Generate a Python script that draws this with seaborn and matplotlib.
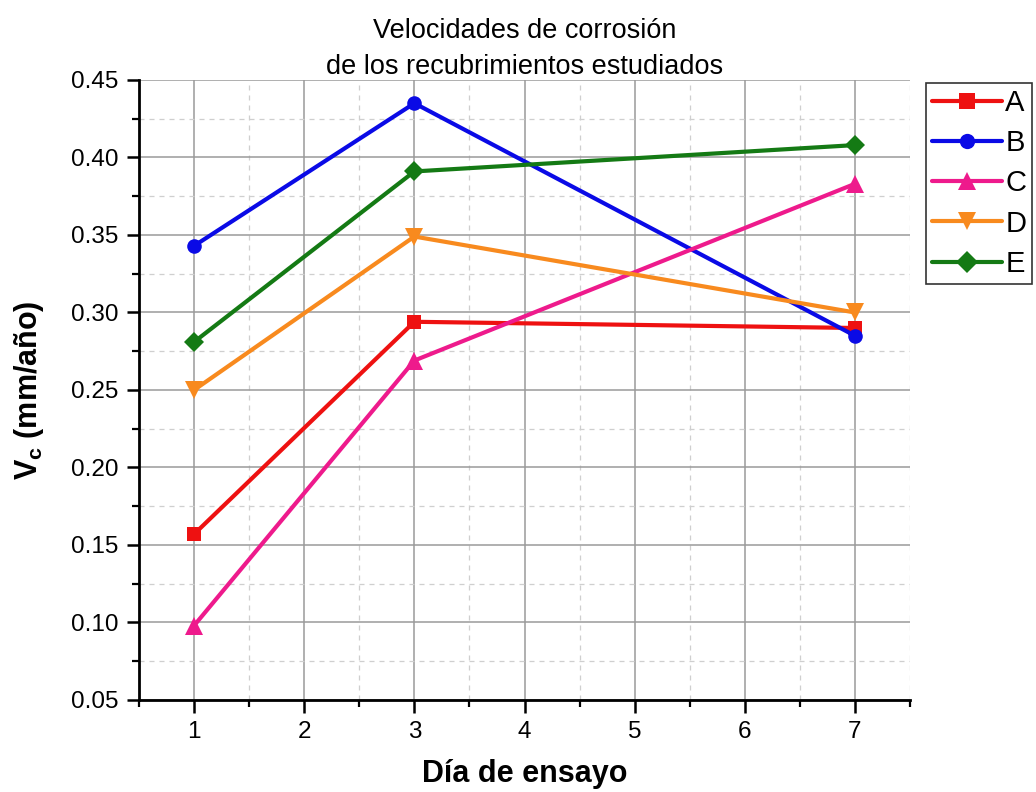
import numpy as np
import pandas as pd
import matplotlib
matplotlib.use("Agg")
import matplotlib.pyplot as plt
from matplotlib.ticker import MultipleLocator, FormatStrFormatter
import seaborn as sns

# Corrosion rate (mm/año) per coating, measured on test days 1, 3 and 7
dias = [1, 3, 7]
recubrimientos = ["A", "B", "C", "D", "E"]
vel_A = [0.157, 0.294, 0.290]
vel_B = [0.343, 0.435, 0.285]
vel_C = [0.098, 0.269, 0.383]
vel_D = [0.250, 0.349, 0.300]
vel_E = [0.281, 0.391, 0.408]

colores = {"A": "#ee1111", "B": "#0a0ae6", "C": "#ee1a8c",
           "D": "#f88a1e", "E": "#147a14"}
marcadores = {"A": "s", "B": "o", "C": "^", "D": "v", "E": "D"}

valores = [vel_A, vel_B, vel_C, vel_D, vel_E]
df = pd.DataFrame({
    "dia": np.tile(dias, len(recubrimientos)),
    "vc": np.concatenate(valores),
    "rec": np.repeat(recubrimientos, len(dias)),
})

sns.set_style("white")
plt.rcParams["font.family"] = ["Liberation Sans", "DejaVu Sans"]
plt.rcParams["text.color"] = "black"
plt.rcParams["axes.labelcolor"] = "black"
plt.rcParams["xtick.color"] = "black"
plt.rcParams["ytick.color"] = "black"
plt.rcParams["mathtext.fontset"] = "custom"
plt.rcParams["mathtext.rm"] = "Liberation Sans"
plt.rcParams["mathtext.bf"] = "Liberation Sans:bold"

fig = plt.figure(figsize=(10.36, 7.92), dpi=100)
ax = fig.add_axes([0.1342, 0.1162, 0.8784 - 0.1342, 0.899 - 0.1162])

sns.lineplot(data=df, x="dia", y="vc", hue="rec", style="rec",
             palette=colores, markers=marcadores, dashes=False,
             linewidth=3.0, markersize=10.5, markeredgewidth=0,
             ax=ax, legend=True)

# triangles read smaller than the other symbols at equal size
for ln in ax.lines:
    if ln.get_marker() in ("^", "v"):
        ln.set_markersize(12.5)

ax.set_xlim(0.5, 7.5)
ax.set_ylim(0.05, 0.45)
ax.xaxis.set_major_locator(MultipleLocator(1))
ax.xaxis.set_minor_locator(MultipleLocator(0.5))
ax.yaxis.set_major_locator(MultipleLocator(0.05))
ax.yaxis.set_minor_locator(MultipleLocator(0.025))
ax.yaxis.set_major_formatter(FormatStrFormatter("%.2f"))

ax.grid(which="major", color="#9a9a9a", linewidth=1.1, linestyle="-")
ax.grid(which="minor", color="#cfcfcf", linewidth=0.9, linestyle=(0, (4, 4)))
ax.set_axisbelow(True)

for s in ["top", "right"]:
    ax.spines[s].set_visible(False)
for s in ["left", "bottom"]:
    ax.spines[s].set_linewidth(2.0)
    ax.spines[s].set_color("black")

ax.tick_params(which="major", direction="out", length=9, width=1.8,
               labelsize=17.5, pad=6, left=True, bottom=True)
ax.tick_params(which="minor", direction="out", length=5, width=1.6,
               left=True, bottom=True)

ax.set_xlabel("Día de ensayo", fontsize=22, fontweight="bold", labelpad=12)
ax.set_ylabel(r"V$_\mathbf{c}$ (mm/año)", fontsize=22, fontweight="bold",
              labelpad=18)
ax.set_title("Velocidades de corrosión\nde los recubrimientos estudiados",
             fontsize=19.5, linespacing=1.5, pad=4)

handles, labels = ax.get_legend_handles_labels()
for h in handles:
    h.set_markersize(12.5 if h.get_marker() in ("^", "v") else 11)
leg = ax.legend(handles, labels, loc="upper left",
                bbox_to_anchor=(926 / 1036, 1 - 83 / 792),
                bbox_transform=fig.transFigure, fontsize=21,
                frameon=True, fancybox=False, edgecolor="black",
                borderpad=0.2, labelspacing=0.42, handlelength=2.4,
                handletextpad=0.12, borderaxespad=0)
leg.get_frame().set_linewidth(1.2)

fig.savefig("out.png", dpi=100)
